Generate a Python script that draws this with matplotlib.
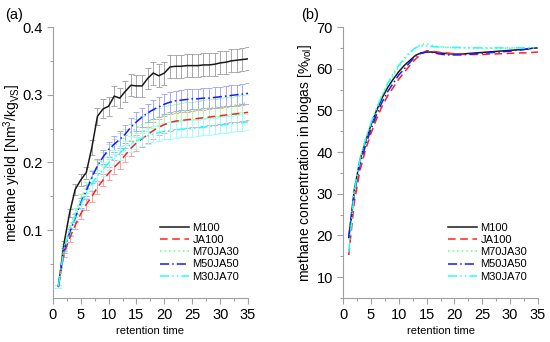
import numpy as np
import matplotlib
matplotlib.use("Agg")
import matplotlib.pyplot as plt
from matplotlib.ticker import MultipleLocator, FixedLocator

plt.rcParams['font.family'] = ['Liberation Sans', 'DejaVu Sans']
plt.rcParams['mathtext.fontset'] = 'custom'
plt.rcParams['mathtext.rm'] = 'Liberation Sans'

days = list(range(1, 36))
series_names = ["M100", "JA100", "M70JA30", "M50JA50", "M30JA70"]

# (a) methane yield [Nm3/kgVS]
yield_M100 = [0.017, 0.080, 0.125, 0.160, 0.174, 0.185, 0.222, 0.268, 0.279, 0.283,
              0.298, 0.295, 0.305, 0.314, 0.313, 0.313, 0.324, 0.332, 0.328, 0.332,
              0.341, 0.342, 0.342, 0.343, 0.343, 0.343, 0.344, 0.344, 0.345, 0.347,
              0.348, 0.350, 0.351, 0.352, 0.353]
yield_JA100 = [0.017, 0.065, 0.088, 0.107, 0.124, 0.138, 0.150, 0.163, 0.174, 0.184,
               0.193, 0.201, 0.211, 0.221, 0.229, 0.235, 0.241, 0.247, 0.252, 0.256,
               0.259, 0.261, 0.262, 0.263, 0.264, 0.265, 0.266, 0.267, 0.268, 0.269,
               0.270, 0.271, 0.272, 0.273, 0.274]
yield_M70JA30 = [0.017, 0.075, 0.103, 0.126, 0.146, 0.163, 0.180, 0.194, 0.206, 0.216,
                 0.224, 0.231, 0.238, 0.245, 0.251, 0.256, 0.260, 0.264, 0.267, 0.270,
                 0.272, 0.274, 0.275, 0.276, 0.277, 0.278, 0.279, 0.280, 0.281, 0.282,
                 0.283, 0.284, 0.285, 0.287, 0.288]
yield_M50JA50 = [0.017, 0.070, 0.096, 0.118, 0.140, 0.158, 0.178, 0.195, 0.208, 0.219,
                 0.227, 0.234, 0.242, 0.252, 0.260, 0.267, 0.273, 0.278, 0.282, 0.286,
                 0.289, 0.291, 0.292, 0.293, 0.294, 0.294, 0.295, 0.295, 0.296, 0.297,
                 0.298, 0.299, 0.300, 0.301, 0.302]
yield_M30JA70 = [0.017, 0.072, 0.098, 0.120, 0.138, 0.155, 0.168, 0.180, 0.190, 0.199,
                 0.207, 0.214, 0.221, 0.227, 0.232, 0.236, 0.239, 0.242, 0.244, 0.246,
                 0.247, 0.248, 0.249, 0.250, 0.250, 0.251, 0.252, 0.253, 0.254, 0.255,
                 0.256, 0.257, 0.258, 0.259, 0.260]

err_M100 = [0.002, 0.004, 0.006, 0.008, 0.009, 0.009, 0.011, 0.013, 0.014, 0.014,
            0.015, 0.015, 0.015, 0.016, 0.016, 0.016, 0.016, 0.017, 0.017, 0.017,
            0.017, 0.017, 0.017, 0.017, 0.017, 0.017, 0.017, 0.017, 0.017, 0.017,
            0.017, 0.017, 0.017, 0.017, 0.017]
err_JA100 = [0.002, 0.004, 0.005, 0.006, 0.007, 0.008, 0.008, 0.009, 0.009, 0.010,
             0.010, 0.011, 0.011, 0.011, 0.012, 0.012, 0.012, 0.012, 0.012, 0.012,
             0.012, 0.012, 0.012, 0.012, 0.012, 0.012, 0.012, 0.012, 0.012, 0.012,
             0.012, 0.012, 0.012, 0.012, 0.012]
err_M70JA30 = [0.002, 0.004, 0.005, 0.006, 0.007, 0.008, 0.009, 0.010, 0.010, 0.011,
               0.011, 0.012, 0.012, 0.012, 0.013, 0.013, 0.013, 0.013, 0.013, 0.013,
               0.013, 0.013, 0.013, 0.013, 0.013, 0.013, 0.013, 0.013, 0.013, 0.013,
               0.013, 0.013, 0.013, 0.013, 0.013]
err_M50JA50 = [0.002, 0.004, 0.005, 0.006, 0.007, 0.008, 0.009, 0.010, 0.011, 0.011,
               0.012, 0.012, 0.013, 0.013, 0.014, 0.014, 0.014, 0.014, 0.015, 0.015,
               0.015, 0.015, 0.015, 0.015, 0.015, 0.015, 0.015, 0.015, 0.015, 0.015,
               0.015, 0.015, 0.015, 0.015, 0.015]
err_M30JA70 = [0.002, 0.004, 0.005, 0.006, 0.007, 0.008, 0.008, 0.009, 0.010, 0.010,
               0.011, 0.011, 0.011, 0.012, 0.012, 0.012, 0.012, 0.012, 0.012, 0.012,
               0.012, 0.012, 0.012, 0.012, 0.012, 0.012, 0.012, 0.012, 0.012, 0.012,
               0.012, 0.012, 0.012, 0.012, 0.012]

# (b) methane concentration in biogas [%vol]
conc_M100 = [19.5, 31.0, 38.0, 42.5, 46.5, 50.0, 53.0, 55.5, 57.5, 59.3,
             60.8, 62.0, 63.2, 63.8, 64.0, 64.0, 63.8, 63.7, 63.6, 63.5,
             63.5, 63.6, 63.7, 63.8, 63.9, 64.0, 64.1, 64.2, 64.3, 64.4,
             64.5, 64.6, 64.7, 64.9, 65.0]
conc_JA100 = [15.3, 28.0, 35.5, 40.5, 44.5, 48.0, 51.0, 53.5, 55.5, 57.5,
              59.2, 60.8, 62.3, 63.5, 64.3, 64.2, 64.0, 63.8, 63.7, 63.6,
              63.5, 63.4, 63.4, 63.4, 63.4, 63.5, 63.5, 63.6, 63.6, 63.7,
              63.7, 63.8, 63.8, 63.9, 64.0]
conc_M70JA30 = [19.0, 31.5, 38.5, 43.0, 47.0, 50.5, 53.7, 56.3, 58.5, 60.5,
                62.3, 63.8, 65.0, 65.8, 66.0, 65.6, 65.3, 65.2, 65.1, 65.0,
                65.0, 65.0, 65.0, 64.9, 64.9, 64.9, 64.9, 64.9, 64.9, 64.9,
                65.0, 65.0, 65.0, 65.0, 65.0]
conc_M50JA50 = [19.5, 30.0, 37.0, 41.5, 45.5, 49.0, 52.0, 54.5, 56.5, 58.5,
                60.0, 61.5, 63.0, 63.7, 64.0, 63.9, 63.6, 63.4, 63.3, 63.3,
                63.3, 63.4, 63.5, 63.6, 63.7, 63.8, 63.9, 64.0, 64.1, 64.2,
                64.4, 64.5, 64.7, 64.9, 65.0]
conc_M30JA70 = [16.0, 30.5, 38.0, 43.0, 47.0, 50.5, 53.7, 56.5, 58.8, 60.8,
                62.5, 64.0, 65.0, 65.5, 65.5, 65.3, 65.2, 65.2, 65.1, 65.1,
                65.1, 65.0, 65.0, 65.0, 65.0, 65.0, 65.0, 65.0, 65.0, 65.0,
                65.0, 65.0, 65.0, 65.0, 65.0]

yields = [yield_M100, yield_JA100, yield_M70JA30, yield_M50JA50, yield_M30JA70]
errs = [err_M100, err_JA100, err_M70JA30, err_M50JA50, err_M30JA70]
concs = [conc_M100, conc_JA100, conc_M70JA30, conc_M50JA50, conc_M30JA70]

line_colors = ['#1a1a1a', '#ff2020', '#66ff66', '#1a1aff', '#22ffff']
err_colors = ['#a8a8a8', '#ffa0a0', '#a8ffa8', '#a8a8ff', '#a0ffff']
line_styles = ['-', (0, (5, 3)), (0, (1, 2)), (0, (6, 2, 1, 2)), (0, (6, 2, 1, 2, 1, 2))]

fig = plt.figure(figsize=(5.5, 3.42), dpi=100)
axa = fig.add_axes([0.096, 0.129, 0.355, 0.792])
axb = fig.add_axes([0.624, 0.129, 0.354, 0.792])

spine_col = '#a0a0a0'

def style(ax):
    for s in ['top', 'right']:
        ax.spines[s].set_visible(False)
    for s in ['left', 'bottom']:
        ax.spines[s].set_color(spine_col)
        ax.spines[s].set_linewidth(0.8)
    ax.tick_params(which='both', direction='out', color=spine_col, labelsize=10.5, width=0.8)
    ax.tick_params(which='major', length=4)
    ax.tick_params(which='minor', length=2.5)
    ax.set_xlim(0, 35)
    ax.xaxis.set_major_locator(MultipleLocator(5))
    ax.xaxis.set_minor_locator(MultipleLocator(2.5))
    ax.set_xlabel('retention time', fontsize=8, labelpad=3)

leg_kw = dict(loc='lower right', fontsize=8, frameon=False, handlelength=2.6,
              handletextpad=0.3, labelspacing=0.2, borderaxespad=0.0, borderpad=0.0)

# panel a
for y, e, c, ec, ls, n in zip(yields, errs, line_colors, err_colors, line_styles, series_names):
    axa.errorbar(days, y, yerr=e, fmt='none', ecolor=ec, elinewidth=0.7, capsize=2.2, capthick=0.7, zorder=1)
for y, c, ls, n in zip(yields, line_colors, line_styles, series_names):
    axa.plot(days, y, color=c, linestyle=ls, linewidth=1.1, label=n, zorder=3)
style(axa)
axa.set_ylim(0, 0.4)
axa.yaxis.set_major_locator(FixedLocator([0.1, 0.2, 0.3, 0.4]))
axa.yaxis.set_minor_locator(FixedLocator([0.05, 0.15, 0.25, 0.35]))
axa.set_ylabel('methane yield [Nm$^3$/kg$_\\mathregular{VS}$]', fontsize=10)
axa.yaxis.set_label_coords(-0.152, 0.5)
axa.legend(bbox_to_anchor=(0.955, 0.06), **leg_kw)
fig.text(0.01, 0.955, '(a)', fontsize=10.5, va='center')

# panel b
for y, c, ls, n in zip(concs, line_colors, line_styles, series_names):
    axb.plot(days, y, color=c, linestyle=ls, linewidth=1.1, label=n)
style(axb)
axb.set_ylim(5, 70)
axb.yaxis.set_major_locator(FixedLocator([10, 20, 30, 40, 50, 60, 70]))
axb.yaxis.set_minor_locator(FixedLocator([5, 15, 25, 35, 45, 55, 65]))
axb.set_ylabel('methane concentration in biogas [%$_\\mathregular{vol}$]', fontsize=10)
axb.yaxis.set_label_coords(-0.148, 0.5)
axb.legend(bbox_to_anchor=(0.945, 0.06), **leg_kw)
fig.text(0.547, 0.955, '(b)', fontsize=10.5, va='center')

fig.savefig('out.png', dpi=100)
